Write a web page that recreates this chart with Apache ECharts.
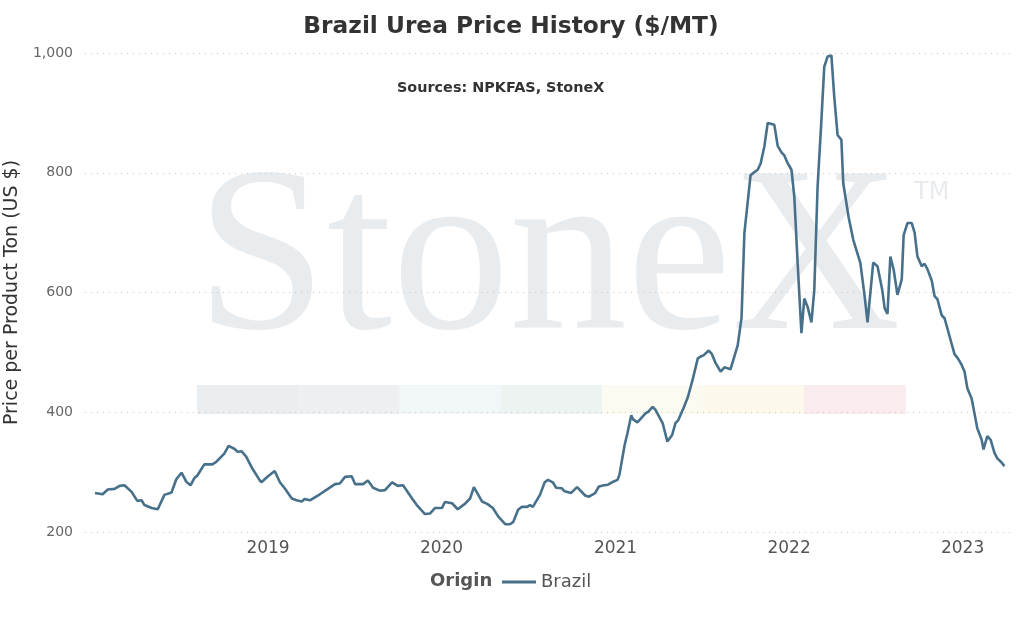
<!DOCTYPE html>
<html>
<head>
<meta charset="utf-8">
<title>Brazil Urea Price History</title>
<script src="https://cdn.jsdelivr.net/npm/echarts@6/dist/echarts.min.js"></script>
<style>
  html, body { margin: 0; padding: 0; background: #fff; }
  #chart { width: 1022px; height: 617px; }
</style>
</head>
<body>
<div id="chart"></div>
<script>
// weekly-ish price readings, Brazil urea ($/MT)
var priceDates = [
  '2018-01-02','2018-01-18','2018-01-29','2018-02-12','2018-02-23','2018-03-05','2018-03-20','2018-04-01',
  '2018-04-10','2018-04-16','2018-05-01','2018-05-14','2018-05-28','2018-06-12','2018-06-22','2018-07-03',
  '2018-07-13','2018-07-22','2018-07-30','2018-08-05','2018-08-20','2018-09-06','2018-09-14','2018-10-01',
  '2018-10-10','2018-10-22','2018-10-29','2018-11-06','2018-11-16','2018-11-29','2018-12-14','2018-12-18',
  '2019-01-01','2019-01-15','2019-01-26','2019-02-05','2019-02-20','2019-03-02','2019-03-13','2019-03-19',
  '2019-03-30','2019-04-20','2019-05-07','2019-05-22','2019-06-01','2019-06-12','2019-06-26','2019-07-03',
  '2019-07-20','2019-07-30','2019-08-10','2019-08-24','2019-09-04','2019-09-19','2019-10-01','2019-10-12',
  '2019-10-31','2019-11-10','2019-11-27','2019-12-08','2019-12-18',
  '2020-01-02','2020-01-08','2020-01-23','2020-02-04','2020-02-19','2020-03-01','2020-03-09','2020-03-26',
  '2020-04-06','2020-04-18','2020-04-29','2020-05-14','2020-05-24','2020-05-31','2020-06-10','2020-06-18',
  '2020-06-29','2020-07-05','2020-07-11','2020-07-26','2020-08-05','2020-08-12','2020-08-22','2020-08-29',
  '2020-09-10','2020-09-16','2020-09-29','2020-10-12','2020-10-29','2020-11-06','2020-11-19','2020-11-27',
  '2020-12-08','2020-12-16','2020-12-27',
  '2021-01-05','2021-01-09','2021-01-20','2021-01-26','2021-02-03','2021-02-07','2021-02-16','2021-03-05',
  '2021-03-11','2021-03-20','2021-03-26','2021-04-10','2021-04-20','2021-04-30','2021-05-07','2021-05-13',
  '2021-05-24','2021-06-02','2021-06-12','2021-06-23','2021-06-29','2021-07-05','2021-07-16','2021-07-22',
  '2021-07-30','2021-08-10','2021-08-18','2021-08-31','2021-09-15','2021-09-23','2021-09-29','2021-10-12',
  '2021-10-27','2021-11-02','2021-11-10','2021-11-17','2021-12-01','2021-12-08','2021-12-16','2021-12-22',
  '2021-12-29',
  '2022-01-06','2022-01-12','2022-01-19','2022-01-27','2022-02-02','2022-02-09','2022-02-17','2022-02-23',
  '2022-03-02','2022-03-10','2022-03-16','2022-03-23','2022-03-31','2022-04-06','2022-04-13','2022-04-21',
  '2022-04-25','2022-05-06','2022-05-16','2022-05-31','2022-06-09','2022-06-15','2022-06-27','2022-07-06',
  '2022-07-16','2022-07-21','2022-07-27','2022-08-02','2022-08-09','2022-08-17','2022-08-26','2022-08-30',
  '2022-09-07','2022-09-16','2022-09-22','2022-09-28','2022-10-07','2022-10-13','2022-10-19','2022-10-28',
  '2022-11-03','2022-11-09','2022-11-18','2022-11-24','2022-11-30','2022-12-09','2022-12-15','2022-12-22',
  '2022-12-30',
  '2023-01-05','2023-01-11','2023-01-20','2023-01-26','2023-02-01','2023-02-10','2023-02-14','2023-02-22',
  '2023-03-01','2023-03-09','2023-03-15','2023-03-23','2023-03-30'
];
var brazilPrices = [
  265,263,271,272,277,278,267,252,
  253,245,240,238,262,266,288,299,
  284,278,290,294,313,313,317,331,
  344,339,334,335,326,306,287,283,
  293,302,283,273,256,253,251,255,
  253,263,272,280,281,292,293,280,
  280,286,274,269,270,283,277,278,
  256,245,230,231,240,
  240,250,248,238,247,256,275,251,
  247,240,226,213,213,217,237,242,
  242,245,242,262,283,287,283,274,
  273,268,265,275,261,259,265,276,
  278,279,284,
  287,295,345,365,395,388,383,398,
  401,409,404,382,351,362,382,387,
  407,425,454,490,493,495,503,498,
  483,468,475,472,512,558,699,796,
  805,815,844,883,880,845,834,829,
  816,
  805,760,649,532,590,576,550,604,
  777,888,977,994,996,927,863,855,
  782,727,688,649,593,550,650,644,
  604,574,564,660,638,596,622,696,
  716,716,700,660,644,648,639,620,
  594,589,562,557,540,514,497,490,
  479,
  468,440,423,398,373,354,338,360,
  354,332,323,317,310
];
var yearLabels = ['2019', '2020', '2021', '2022', '2023'];
var seriesName = 'Brazil';

var chart = echarts.init(document.getElementById('chart'));
var font = '"DejaVu Sans", Verdana, sans-serif';

// faint StoneX watermark band colours
var bandColors = ['#ebeef1','#ecf0f3','#f1f6f9','#edf3f0','#fbfbf1','#fcf8ec','#f9ebee'];
var bands = bandColors.map(function (c, i) {
  return {
    type: 'rect', z: -10, silent: true,
    shape: { x: 197 + i * 101.2, y: 385, width: 101.6, height: 29 },
    style: { fill: c }
  };
});

option = {
  backgroundColor: '#fff',
  animation: false,
  title: {
    text: 'Brazil Urea Price History ($/MT)',
    left: 'center',
    top: 10,
    textStyle: { fontFamily: font, fontSize: 23.3, fontWeight: 'bold', color: '#333' }
  },
  graphic: [
    {
      type: 'text', z: -10, silent: true, x: 196, y: 149,
      style: { text: 'StoneX', font: 'normal 235px "Liberation Serif", serif', fill: '#e9ecef', verticalAlign: 'top' }
    },
    {
      type: 'text', z: -10, silent: true, x: 914, y: 181,
      style: { text: 'TM', font: 'normal 24px ' + font, fill: '#e8ebee', verticalAlign: 'top' }
    }
  ].concat(bands).concat([
    {
      type: 'text', x: 397, y: 88,
      style: { text: 'Sources: NPKFAS, StoneX', font: 'bold 14.4px ' + font, fill: '#333', verticalAlign: 'middle' }
    },
    {
      type: 'text', x: 430, y: 581,
      style: { text: 'Origin', font: 'bold 18px ' + font, fill: '#555', verticalAlign: 'middle' }
    }
  ]),
  legend: {
    left: 497,
    top: 568,
    icon: 'rect',
    itemWidth: 34,
    itemHeight: 3,
    textStyle: { fontFamily: font, fontSize: 18, color: '#555' },
    data: [seriesName]
  },
  grid: { left: 85, right: 9, top: 53, bottom: 85, containLabel: false, outerBoundsMode: 'none' },
  xAxis: {
    type: 'time',
    min: '2017-12-12',
    max: '2023-04-17',
    minInterval: 365 * 24 * 3600 * 1000,
    axisLine: { show: false },
    axisTick: { show: false },
    splitLine: { show: false },
    axisLabel: {
      formatter: function (v) {
        var d = new Date(v);
        var y = String(d.getFullYear());
        return d.getMonth() === 0 && d.getDate() === 1 && yearLabels.indexOf(y) >= 0 ? y : '';
      },
      fontFamily: font, fontSize: 17, color: '#555', margin: 8
    }
  },
  yAxis: {
    type: 'value',
    min: 200,
    max: 1000,
    interval: 200,
    name: 'Price per Product Ton (US $)',
    nameLocation: 'middle',
    nameGap: 62,
    nameTextStyle: { fontFamily: font, fontSize: 19, color: '#333' },
    axisLine: { show: false },
    axisTick: { show: false },
    axisLabel: { fontFamily: font, fontSize: 14, color: '#666', margin: 12 },
    splitLine: { lineStyle: { color: '#c8c8c8', type: [1, 5], width: 1 } }
  },
  series: [
    {
      name: seriesName,
      type: 'line',
      symbol: 'none',
      lineStyle: { color: '#47708a', width: 2.6 },
      itemStyle: { color: '#47708a' },
      data: priceDates.map(function (d, i) { return [d, brazilPrices[i]]; })
    }
  ]
};
chart.setOption(option, true);
</script>
</body>
</html>
